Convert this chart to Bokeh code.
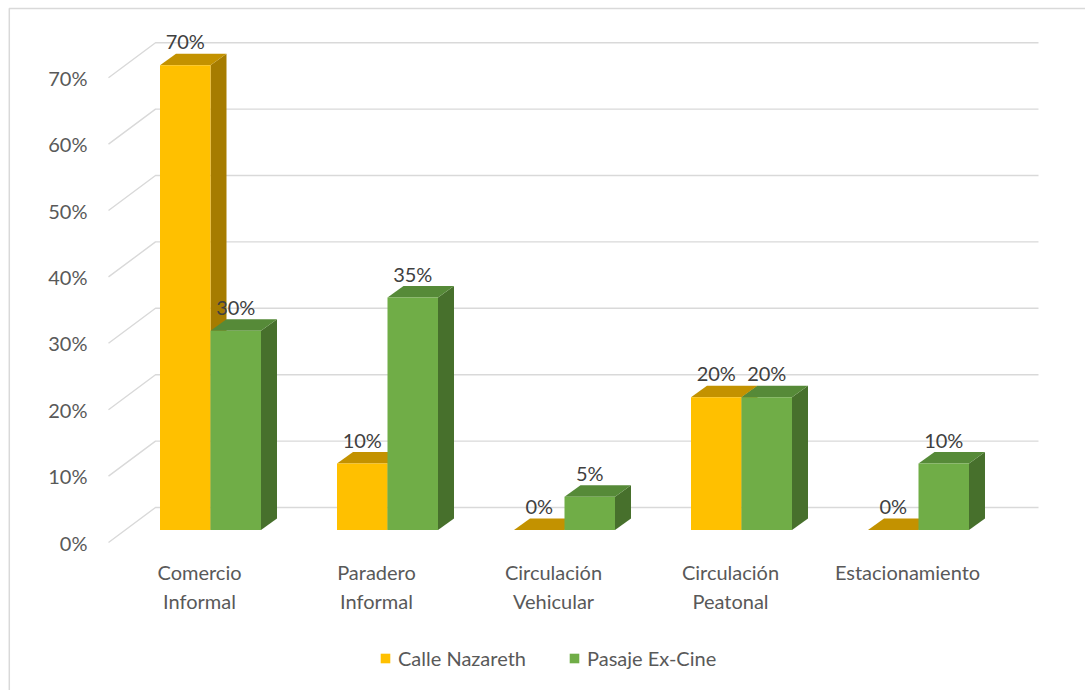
from bokeh.plotting import figure
from bokeh.models import Range1d, Legend, LegendItem
from bokeh.embed import file_html
from bokeh.resources import INLINE
from bokeh.core.properties import value

# ---------------- data ----------------
categories = ["Comercio Informal", "Paradero Informal", "Circulación Vehicular",
              "Circulación Peatonal", "Estacionamiento"]
series_names = ["Calle Nazareth", "Pasaje Ex-Cine"]
calle_nazareth = [70, 10, 0, 20, 0]
pasaje_ex_cine = [30, 35, 5, 20, 10]
y_ticks = [0, 10, 20, 30, 40, 50, 60, 70]
y_tick_labels = ["0%", "10%", "20%", "30%", "40%", "50%", "60%", "70%"]

# ---------------- layout (page pixels -> data units) ----------------
W, H = 1085, 690
X0, CAT = 210.0, 177.0      # page x of first category centre, px per category
Y0, PXU = 529.5, 6.64       # page y of 0 % on bar plane, px per percent


def gx(page_x):
    return (page_x - X0) / CAT


def gy(page_y):
    return (Y0 - page_y) / PXU


BW = 50.5 / CAT             # bar width
DX, DY = 16.0 / CAT, 11.5 / PXU   # bar depth offset
FY = -12.5 / PXU            # floor front edge offset
BY = 22.5 / PXU             # back wall offset

FONT_NAME = "Lato"
FONT = value(FONT_NAME)
FS = "20px"
GRID = "#D9D9D9"
TXT = "#595959"
LBL = "#404040"

p = figure(width=W, height=H, output_backend="svg", toolbar_location=None,
           x_range=Range1d(gx(0), gx(W)), y_range=Range1d(gy(H), gy(0)),
           x_axis_location=None, y_axis_location=None, min_border=0,
           background_fill_color="white", border_fill_color="white")
p.outline_line_color = None
p.xgrid.visible = False
p.ygrid.visible = False

# chart border (left and top visible)
p.line([gx(8.8), gx(8.8), gx(W)], [gy(H), gy(8.0), gy(8.0)],
       line_color=GRID, line_width=1.5)

# back wall gridlines + floor/side diagonals
xs_g, ys_g = [], []
for v in y_ticks:
    xs_g.append([gx(108), gx(155), gx(1038)])
    ys_g.append([v + FY, v + BY, v + BY])
p.multi_line(xs_g, ys_g, line_color=GRID, line_width=1.4)

# y tick labels
p.text(x=[gx(87)] * len(y_ticks), y=[v + FY for v in y_ticks], text=y_tick_labels,
       text_font=FONT, text_font_size=FS, text_color=TXT,
       text_align="right", text_baseline="middle")

# bars
series = [
    (calle_nazareth, -BW, "#FFC000", "#C39200", "#A67C00"),
    (pasaje_ex_cine, 0.0, "#70AD47", "#568A38", "#47702C"),
]
front_renderers = []
lab_x, lab_y, lab_t = [], [], []
for vals, off, c_front, c_top, c_side in series:
    fx, fy, tx, ty, sx, sy = [], [], [], [], [], []
    for i, v in enumerate(vals):
        x0 = i + off
        x1 = x0 + BW
        fx.append([x0, x1, x1, x0])
        fy.append([0, 0, v, v])
        tx.append([x0, x1, x1 + DX, x0 + DX])
        ty.append([v, v, v + DY, v + DY])
        sx.append([x1, x1 + DX, x1 + DX, x1])
        sy.append([0, DY, v + DY, v])
        lab_x.append(x0 + BW / 2)
        lab_y.append(v + 24.0 / PXU)
        lab_t.append(f"{v}%")
    p.patches(sx, sy, fill_color=c_side, line_color=None)
    p.patches(tx, ty, fill_color=c_top, line_color=None)
    r = p.patches(fx, fy, fill_color=c_front, line_color=None)
    front_renderers.append(r)

# data labels
p.text(x=lab_x, y=lab_y, text=lab_t, text_font=FONT, text_font_size=FS,
       text_color=LBL, text_align="center", text_baseline="middle")

# category labels (wrapped on first space like the original)
c_x, c_y, c_t = [], [], []
for i, name in enumerate(categories):
    parts = name.split(" ", 1)
    for j, part in enumerate(parts):
        c_x.append(i - 11.0 / CAT)
        c_y.append(gy(571 + 29.5 * j))
        c_t.append(part)
p.text(x=c_x, y=c_y, text=c_t, text_font=FONT, text_font_size=FS,
       text_color=TXT, text_align="center", text_baseline="middle")

# legend
legend = Legend(items=[LegendItem(label=series_names[k], renderers=[front_renderers[k]])
                       for k in range(2)],
                orientation="horizontal", location=(379, 20),
                glyph_width=12, glyph_height=12, label_standoff=7, spacing=42,
                padding=0, margin=0, border_line_color=None,
                background_fill_alpha=0, label_text_font=FONT_NAME,
                label_text_font_size=FS, label_text_color=TXT,
                label_text_baseline="middle")
p.add_layout(legend, "center")

open("out.html", "w").write(file_html(p, INLINE))
